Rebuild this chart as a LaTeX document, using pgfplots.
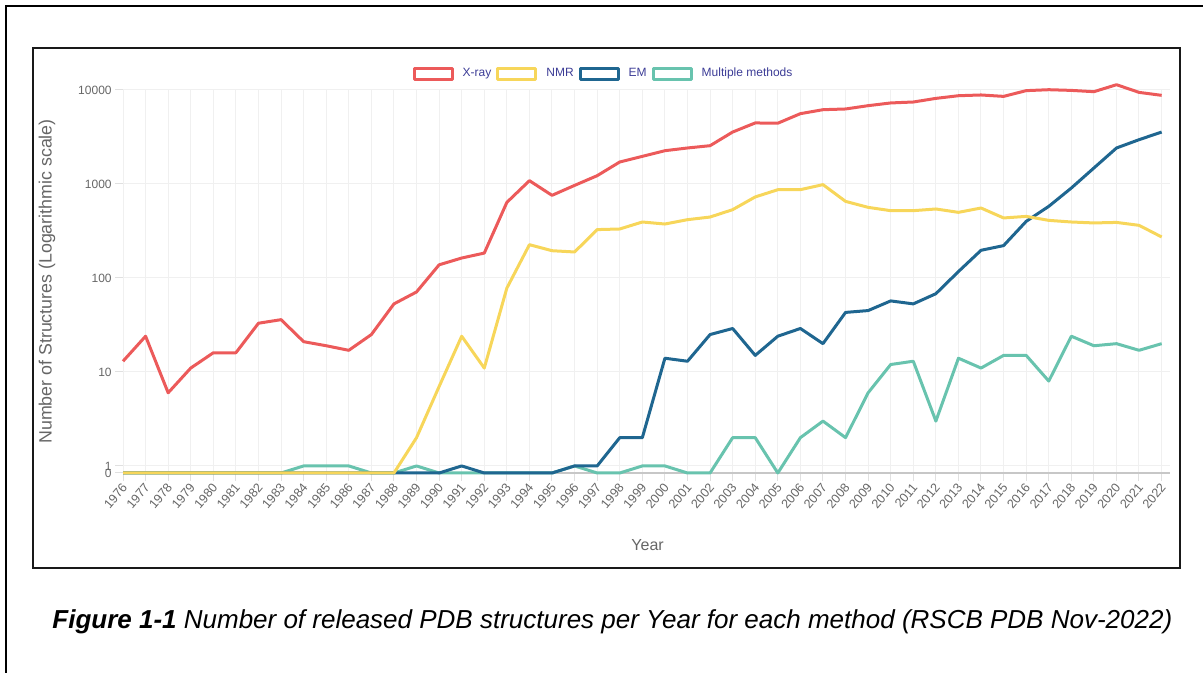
\documentclass[border=0pt]{standalone}
\usepackage{pgfplots}
\pgfplotsset{compat=1.18}
\usepackage{pgfplotstable}
\usepackage{fontspec}
\setmainfont{Liberation Sans}
\definecolor{cxray}{HTML}{EC5A5A}
\definecolor{cnmr}{HTML}{F7D65A}
\definecolor{cem}{HTML}{1F6690}
\definecolor{cmulti}{HTML}{68C3AE}
\definecolor{legtext}{HTML}{3C3C96}
\definecolor{labgray}{HTML}{666666}
\pgfplotstableread{
year xray nmr em multi
1976 13 0 0 0
1977 24 0 0 0
1978 6 0 0 0
1979 11 0 0 0
1980 16 0 0 0
1981 16 0 0 0
1982 33 0 0 0
1983 36 0 0 0
1984 21 0 0 1
1985 19 0 0 1
1986 17 0 0 1
1987 25 0 0 0
1988 53 0 0 0
1989 71 2 0 1
1990 138 7 0 0
1991 163 24 1 0
1992 184 11 0 0
1993 637 78 0 0
1994 1084 226 0 0
1995 757 195 0 0
1996 966 189 1 1
1997 1225 327 1 0
1998 1714 332 2 0
1999 1967 394 2 1
2000 2260 375 14 1
2001 2415 417 13 0
2002 2555 445 25 0
2003 3570 533 29 2
2004 4460 728 15 2
2005 4430 869 24 0
2006 5600 870 29 2
2007 6170 984 20 3
2008 6280 653 43 2
2009 6810 564 45 6
2010 7280 520 57 12
2011 7450 520 53 13
2012 8140 542 68 3
2013 8690 499 117 14
2014 8850 555 197 11
2015 8550 435 221 15
2016 9840 452 400 15
2017 10070 410 578 8
2018 9900 394 906 24
2019 9590 385 1480 19
2020 11380 390 2415 20
2021 9430 363 2960 17
2022 8770 273 3570 20
}\datatable
\newcommand{\LY}[1]{(\thisrow{#1}>0 ? ln(max(\thisrow{#1},1))/ln(10) : -0.075)}
\begin{document}
\begin{tikzpicture}
\path[use as bounding box] (0,0) rectangle (601.5pt,336.5pt);
\draw[line width=1pt] (3pt,0) -- (3pt,333.5pt) -- (601.5pt,333.5pt);
\draw[black!30, line width=1.4pt] (16.5pt,52.5pt) rectangle (590pt,312.5pt);
\draw[black!90, line width=0.8pt] (16.5pt,52.5pt) rectangle (590pt,312.5pt);
\begin{axis}[
  width=523.5pt, height=191.5pt, scale only axis,
  at={(61.5pt,100pt)}, anchor=south west,
  xmin=1976, xmax=2022.37, ymin=-0.075, ymax=4,
  clip=false,
  axis line style={draw=none},
  tick pos=left, tick align=outside, major tick length=4pt,
  tick style={draw=black!12, line width=0.5pt},
  grid=major, major grid style={draw=black!6, line width=0.5pt},
  xtick={1976,...,2022},
  ytick={0,1,2,3,4}, yticklabels={1,10,100,1000,10000},
  extra y ticks={-0.075}, extra y tick labels={0},
  extra y tick style={major grid style={draw=black!22, line width=0.7pt}},
  /pgf/number format/1000 sep={},
  /pgf/number format/assume math mode=true,
  ticklabel style={font=\fontsize{6pt}{7pt}\selectfont, text=labgray},
  xticklabel style={rotate=50, anchor=east, inner sep=1pt, yshift=-2pt,
    font=\fontsize{6.3pt}{7pt}\selectfont},
  yticklabel style={inner sep=1.5pt},
  xlabel={Year},
  ylabel={Number of Structures (Logarithmic scale)},
  xlabel style={at={(axis description cs:0.501,-0.188)}, anchor=center,
    font=\fontsize{8pt}{9pt}\selectfont, text=labgray},
  ylabel style={at={(axis description cs:-0.0726,0.5)}, anchor=center,
    font=\fontsize{8.9pt}{10pt}\selectfont, text=labgray},
  legend style={at={(axis description cs:0.458,1.042)}, anchor=center,
    draw=none, fill=none, legend columns=4,
    font=\fontsize{6pt}{7pt}\selectfont, text=legtext,
    nodes={inner sep=0pt},
    /tikz/every even column/.append style={column sep=2.5pt},
    /tikz/every odd column/.append style={column sep=4.5pt}},
  reverse legend,
  legend image code/.code={\draw[#1, line width=1.5pt, fill=white] (0pt,-2.75pt) rectangle (19pt,2.75pt);},
]
\addplot[cmulti, line width=1.5pt, line join=round, no markers] table[x=year, y expr=\LY{multi}] {\datatable};
\addlegendentry{Multiple methods}
\addplot[cem, line width=1.5pt, line join=round, no markers] table[x=year, y expr=\LY{em}] {\datatable};
\addlegendentry{EM}
\addplot[cnmr, line width=1.5pt, line join=round, no markers] table[x=year, y expr=\LY{nmr}] {\datatable};
\addlegendentry{NMR}
\addplot[cxray, line width=1.5pt, line join=round, no markers] table[x=year, y expr=\LY{xray}] {\datatable};
\addlegendentry{X-ray}
\end{axis}
\node[anchor=base west, inner sep=0pt, font=\fontsize{13pt}{15pt}\selectfont\itshape] at (26pt,22pt)
  {\textbf{Figure 1-1} Number of released PDB structures per Year for each method (RSCB PDB Nov-2022)};
\end{tikzpicture}
\end{document}
